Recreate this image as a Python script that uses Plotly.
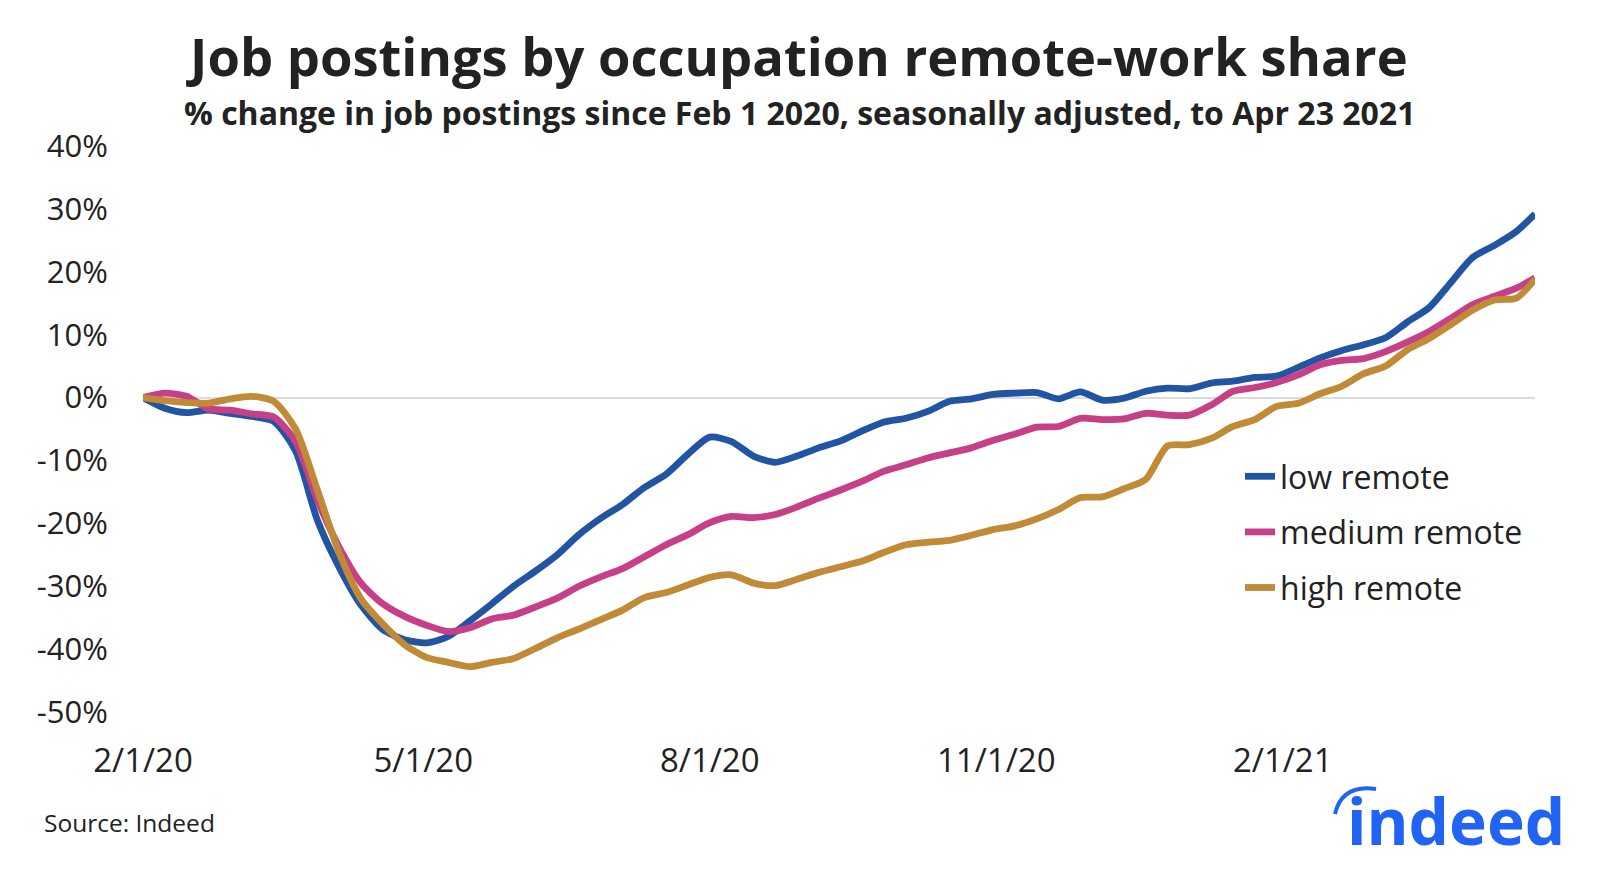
import plotly.graph_objects as go

# ---- data ----
dates = [
    "2020-02-01", "2020-02-08", "2020-02-15", "2020-02-22", "2020-02-29", "2020-03-07",
    "2020-03-14", "2020-03-21", "2020-03-28", "2020-04-04", "2020-04-11", "2020-04-18",
    "2020-04-25", "2020-05-02", "2020-05-09", "2020-05-16", "2020-05-23", "2020-05-30",
    "2020-06-06", "2020-06-13", "2020-06-20", "2020-06-27", "2020-07-04", "2020-07-11",
    "2020-07-18", "2020-07-25", "2020-08-01", "2020-08-08", "2020-08-15", "2020-08-22",
    "2020-08-29", "2020-09-05", "2020-09-12", "2020-09-19", "2020-09-26", "2020-10-03",
    "2020-10-10", "2020-10-17", "2020-10-24", "2020-10-31", "2020-11-07", "2020-11-14",
    "2020-11-21", "2020-11-28", "2020-12-05", "2020-12-12", "2020-12-19", "2020-12-26",
    "2021-01-02", "2021-01-09", "2021-01-16", "2021-01-23", "2021-01-30", "2021-02-06",
    "2021-02-13", "2021-02-20", "2021-02-27", "2021-03-06", "2021-03-13", "2021-03-20",
    "2021-03-27", "2021-04-03", "2021-04-10", "2021-04-17", "2021-04-23",
]

low_remote = [
    0.0, -1.7, -2.4, -2.0, -2.5, -3.0, -3.8, -8.5, -19.5, -27.0, -33.0, -36.9,
    -38.5, -39.0, -38.0, -35.5, -32.8, -30.0, -27.6, -25.0, -21.8, -19.2, -17.0, -14.3,
    -12.2, -9.0, -6.3, -7.0, -9.3, -10.3, -9.3, -8.0, -6.9, -5.3, -3.9, -3.3,
    -2.2, -0.6, -0.2, 0.5, 0.7, 0.8, -0.2, 0.9, -0.4, -0.1, 1.0, 1.5,
    1.4, 2.3, 2.6, 3.2, 3.4, 4.8, 6.3, 7.5, 8.4, 9.5, 12.0, 14.3,
    18.3, 22.3, 24.2, 26.4, 29.2,
]

medium_remote = [
    0.0, 0.7, 0.2, -1.8, -2.0, -2.6, -3.1, -7.0, -16.3, -23.8, -29.5, -32.8,
    -34.8, -36.2, -37.2, -36.6, -35.2, -34.6, -33.3, -31.9, -30.0, -28.5, -27.2, -25.3,
    -23.4, -21.8, -19.9, -18.9, -19.1, -18.6, -17.4, -16.0, -14.7, -13.3, -11.7, -10.7,
    -9.6, -8.8, -8.0, -6.8, -5.8, -4.7, -4.6, -3.3, -3.5, -3.4, -2.5, -2.8,
    -2.8, -1.2, 1.0, 1.6, 2.4, 3.6, 5.2, 5.9, 6.2, 7.3, 8.8, 10.5,
    12.6, 14.8, 16.1, 17.4, 19.0,
]

high_remote = [
    0.0, -0.5, -0.8, -0.9, -0.2, 0.2, -0.6, -5.0, -14.7, -24.7, -32.0, -36.0,
    -39.3, -41.3, -42.1, -42.8, -42.1, -41.5, -39.9, -38.2, -36.8, -35.3, -33.8, -31.8,
    -31.0, -29.8, -28.6, -28.2, -29.5, -29.9, -28.9, -27.8, -26.9, -26.0, -24.6, -23.4,
    -23.0, -22.7, -21.9, -21.0, -20.4, -19.3, -17.8, -15.9, -15.8, -14.5, -13.0, -7.7,
    -7.5, -6.5, -4.6, -3.5, -1.4, -0.9, 0.6, 1.8, 3.8, 5.0, 7.6, 9.4,
    11.6, 13.9, 15.5, 15.8, 18.8,
]

series_names = ["low remote", "medium remote", "high remote"]
series_colors = ["#2155A3", "#C73F87", "#C18A36"]

x_tickvals = ["2020-02-01", "2020-05-01", "2020-08-01", "2020-11-01", "2021-02-01"]
x_ticktext = ["2/1/20", "5/1/20", "8/1/20", "11/1/20", "2/1/21"]
y_tickvals = [40, 30, 20, 10, 0, -10, -20, -30, -40, -50]
y_ticktext = ["40%", "30%", "20%", "10%", "0%", "-10%", "-20%", "-30%", "-40%", "-50%"]

# ---- layout geometry (pixels) ----
W, H = 1600, 877
PL, PR, PT, PB = 135, 1527, 138, 704  # plot area edges


def px(xp):
    return (xp - PL) / (PR - PL)


def py(yp):
    return (PB - yp) / (PB - PT)


FONT = "Open Sans"
TXT = "#222222"

fig = go.Figure()
for name, vals, col in zip(series_names,
                           [low_remote, medium_remote, high_remote],
                           series_colors):
    fig.add_trace(go.Scatter(
        x=dates, y=vals, mode="lines", name=name, legendgroup=name,
        line=dict(color=col, width=6.8, shape="spline", smoothing=0.7),
    ))

fig.update_layout(
    width=W, height=H,
    margin=dict(l=PL, r=W - PR, t=PT, b=H - PB, pad=0),
    paper_bgcolor="white", plot_bgcolor="white",
    font=dict(family=FONT, color=TXT, size=31),
    showlegend=True,
    legend=dict(
        x=px(1232), y=py(441), xanchor="left", yanchor="top",
        bgcolor="rgba(0,0,0,0)", font=dict(size=32, color=TXT, family=FONT),
        tracegroupgap=11, itemwidth=30,
    ),
    xaxis=dict(
        type="date", range=["2020-02-01", "2021-04-23"],
        tickvals=x_tickvals, ticktext=x_ticktext,
        showgrid=False, zeroline=False, showline=False,
        ticks="outside", ticklen=19, tickcolor="rgba(0,0,0,0)",
        tickfont=dict(size=33, color=TXT, family=FONT),
    ),
    yaxis=dict(
        range=[-50, 40], tickvals=y_tickvals, ticktext=y_ticktext,
        showgrid=False, zeroline=True, zerolinecolor="#dcdcdc", zerolinewidth=1.5,
        showline=False, ticks="outside", ticklen=28, tickcolor="rgba(0,0,0,0)",
        tickfont=dict(size=31, color=TXT, family=FONT),
    ),
)

annotations = [
    dict(text="<b>Job postings by occupation remote-work share</b>",
         x=px(789), y=py(48), xref="paper", yref="paper",
         xanchor="center", yanchor="middle", showarrow=False,
         font=dict(size=52.5, color=TXT, family=FONT)),
    dict(text="<b>% change in job postings since Feb 1 2020, seasonally adjusted, to Apr 23 2021</b>",
         x=px(791), y=py(104), xref="paper", yref="paper",
         xanchor="center", yanchor="middle", showarrow=False,
         font=dict(size=32, color=TXT, family=FONT)),
    dict(text="Source: Indeed",
         x=px(34), y=py(814), xref="paper", yref="paper",
         xanchor="left", yanchor="middle", showarrow=False,
         font=dict(size=24.5, color=TXT, family=FONT)),
    dict(text="<b>indeed</b>",
         x=px(1337), y=py(858), xref="paper", yref="paper",
         xanchor="left", yanchor="bottom", showarrow=False,
         font=dict(size=64, color="#2164F3", family=FONT)),
]
fig.update_layout(annotations=annotations)

# arc of the indeed logo
p0 = (px(1327), py(806))
p1 = (px(1334), py(776))
p2 = (px(1368), py(781))
fig.add_shape(
    type="path", xref="paper", yref="paper",
    path=f"M {p0[0]},{p0[1]} Q {p1[0]},{p1[1]} {p2[0]},{p2[1]}",
    line=dict(color="#2164F3", width=4),
)

fig.write_html("out.html")
